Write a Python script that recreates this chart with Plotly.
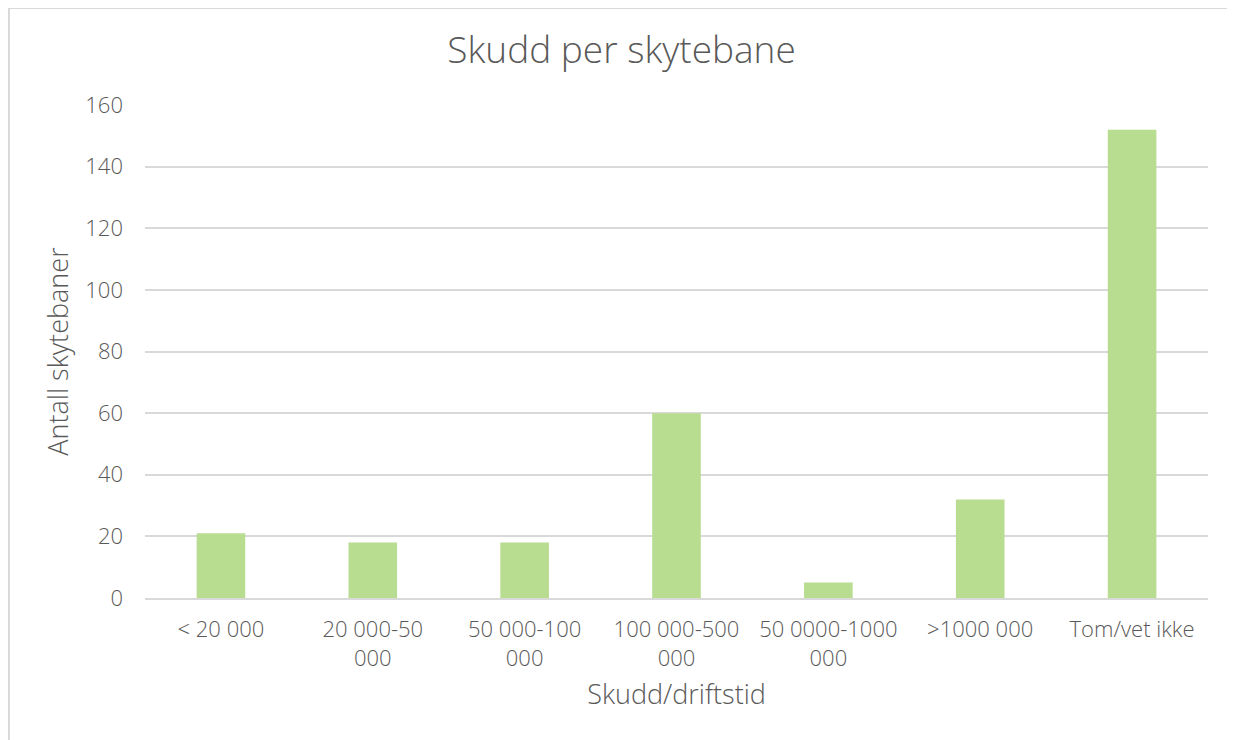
import plotly.graph_objects as go

categories = ["< 20 000", "20 000-50 000", "50 000-100 000", "100 000-500 000",
              "50 0000-1000 000", ">1000 000", "Tom/vet ikke"]
tick_labels = ["< 20 000", "20 000-50<br>000", "50 000-100<br>000", "100 000-500<br>000",
               "50 0000-1000<br>000", ">1000 000", "Tom/vet ikke"]
values = [21, 18, 18, 60, 5, 32, 152]

FONT = "Open Sans"
GREY = "#595959"

fig = go.Figure(go.Bar(x=categories, y=values, marker_color="#B8DC90",
                       marker_line_width=0))

# page has an 8px body margin, so figure coords = page coords - 8
W, H = 1227, 732
L, R, T, B = 137, 27, 97, 142
pw, ph = W - L - R, H - T - B

fig.update_layout(
    width=W, height=H,
    margin=dict(l=L, r=R, t=T, b=B),
    paper_bgcolor="white", plot_bgcolor="white",
    bargap=0.68,
    showlegend=False,
    font=dict(family=FONT, color=GREY, size=22, weight=300),
    title=dict(text="Skudd per skytebane", x=0.5, xanchor="center",
               y=1 - 42 / H, yanchor="middle",
               font=dict(family=FONT, size=37, color=GREY, weight=300)),
    xaxis=dict(tickvals=categories, ticktext=tick_labels, showgrid=False,
               showline=True, linecolor="#D9D9D9", linewidth=1.5,
               ticks="", ticklabelstandoff=11,
               title=dict(text="Skudd/driftstid", standoff=14,
                          font=dict(size=27, color=GREY, weight=300))),
    yaxis=dict(range=[0, 160], tickvals=[0, 20, 40, 60, 80, 100, 120, 140, 160],
               showgrid=True, gridcolor="#D9D9D9", gridwidth=1.5,
               zeroline=False, ticks="", ticklabelstandoff=21,
               title=dict(text="Antall skytebaner", standoff=8,
                          font=dict(size=27, color=GREY, weight=300))),
)

# outer chart border
fig.add_shape(type="rect", xref="paper", yref="paper",
              x0=(1 - L) / pw, x1=(1220 - L) / pw,
              y0=(H - B - 760) / ph, y1=(H - B - 0) / ph,
              line=dict(color="#D9D9D9", width=2), fillcolor="rgba(0,0,0,0)",
              layer="below")

fig.write_html("out.html")
